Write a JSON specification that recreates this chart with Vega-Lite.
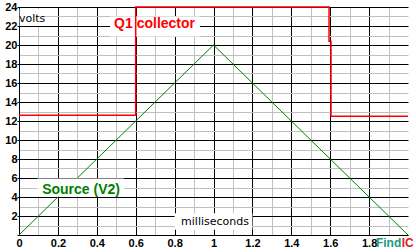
{
  "$schema": "https://vega.github.io/schema/vega-lite/v6.json",
  "width": 389,
  "height": 228,
  "autosize": {"type": "none"},
  "padding": {"left": 19, "top": 7, "right": 8, "bottom": 17},
  "config": {"view": {"stroke": null}, "background": "white"},
  "encoding": {
    "x": {"field": "t", "type": "quantitative",
      "scale": {"domain": [0, 2], "nice": false, "zero": false},
      "axis": {
        "title": null,
        "values": [0,0.1,0.2,0.3,0.4,0.5,0.6,0.7,0.8,0.9,1,1.1,1.2,1.3,1.4,1.5,1.6,1.7,1.8,1.9],
        "format": "~g",
        "labelExpr": "round(datum.value*10)%2==0 ? datum.label : ''",
        "labelOverlap": false,
        "labelFlush": false,
        "labelFont": "Liberation Sans",
        "labelFontWeight": "bold",
        "labelFontSize": 11,
        "labelColor": "black",
        "labelPadding": 2,
        "ticks": false,
        "domain": true,
        "domainColor": "black",
        "grid": true,
        "gridOpacity": 1,
        "gridWidth": 1,
        "gridColor": {"condition": {"test": "round(datum.value*10)%2==0", "value": "black"}, "value": "#c0c0c0"}
      }},
    "y": {"field": "v", "type": "quantitative",
      "scale": {"domain": [0, 24], "nice": false},
      "axis": {
        "title": null,
        "values": [0,1,2,3,4,5,6,7,8,9,10,11,12,13,14,15,16,17,18,19,20,21,22,23,24],
        "labelExpr": "datum.value>0 && datum.value%2==0 ? datum.label : ''",
        "labelOverlap": false,
        "labelFlush": false,
        "labelFont": "Liberation Sans",
        "labelFontWeight": "bold",
        "labelFontSize": 11,
        "labelColor": "black",
        "labelPadding": 0,
        "ticks": true,
        "tickSize": 2,
        "tickColor": {"condition": {"test": "datum.value%2==0", "value": "black"}, "value": "transparent"},
        "domain": true,
        "domainColor": "black",
        "grid": true,
        "gridOpacity": 1,
        "gridWidth": 1,
        "gridColor": {"condition": {"test": "datum.value%2==0", "value": "black"}, "value": "#c0c0c0"}
      }}
  },
  "layer": [
    {
      "data": {"values": [
        {"t": 0, "v": 0, "o": 0},
        {"t": 1, "v": 20, "o": 1},
        {"t": 2, "v": 0, "o": 2}
      ]},
      "mark": {"type": "line", "color": "#008000", "strokeWidth": 1},
      "encoding": {"order": {"field": "o"}}
    },
    {
      "data": {"values": [
        {"t": 0.003, "t2": 0.13, "v": 22.0, "v2": 23.8},
        {"t": 0.468, "t2": 0.93, "v": 20.9, "v2": 23.0},
        {"t": 0.095, "t2": 0.54, "v": 4.05, "v2": 5.95},
        {"t": 0.80, "t2": 1.2, "v": 0.55, "v2": 2.3}
      ]},
      "mark": {"type": "rect", "color": "white"},
      "encoding": {
        "x2": {"field": "t2"},
        "y2": {"field": "v2"}
      }
    },
    {
      "data": {"values": [
        {"t": 0, "v": 12.6, "o": 0},
        {"t": 0.6, "v": 12.6, "o": 1},
        {"t": 0.6, "v": 24, "o": 2},
        {"t": 1.594, "v": 24, "o": 3},
        {"t": 1.594, "v": 20.4, "o": 4},
        {"t": 1.604, "v": 20.4, "o": 5},
        {"t": 1.604, "v": 12.5, "o": 6},
        {"t": 2, "v": 12.5, "o": 7}
      ]},
      "mark": {"type": "line", "color": "#ff0000", "strokeWidth": 1.5},
      "encoding": {"order": {"field": "o"}}
    },
    {
      "data": {"values": [
        {"t": 0.697, "v": 22.2, "label": "Q1  collector", "kind": "Q1"},
        {"t": 0.319, "v": 4.71, "label": "Source  (V2)", "kind": "source"}
      ]},
      "mark": {"type": "text", "font": "Liberation Sans", "fontWeight": "bold", "fontSize": 14, "align": "center", "baseline": "middle"},
      "encoding": {
        "text": {"field": "label"},
        "color": {"field": "kind", "type": "nominal", "scale": {"domain": ["Q1", "source"], "range": ["#ff0000", "#008000"]}, "legend": null}
      }
    },
    {
      "data": {"values": [
        {"t": 1.008, "v": 1.36, "label": "milliseconds"}
      ]},
      "mark": {"type": "text", "font": "DejaVu Sans", "fontSize": 11, "align": "center", "baseline": "middle", "color": "black"},
      "encoding": {"text": {"field": "label"}}
    },
    {
      "data": {"values": [
        {"t": 0.0, "v": 22.7, "label": "volts"}
      ]},
      "mark": {"type": "text", "font": "DejaVu Sans", "fontSize": 11, "align": "left", "baseline": "middle", "color": "black"},
      "encoding": {"text": {"field": "label"}}
    },
    {
      "data": {"values": [
        {"t": 1.835, "v": -0.84, "label": "Find", "kind": "find"},
        {"t": 1.968, "v": -0.84, "label": "IC", "kind": "ic"}
      ]},
      "mark": {"type": "text", "font": "Liberation Sans", "fontWeight": "bold", "fontSize": 12, "align": "left", "baseline": "middle"},
      "encoding": {
        "text": {"field": "label"},
        "color": {"field": "kind", "type": "nominal", "scale": {"domain": ["find", "ic"], "range": ["#1a9a80", "#e02020"]}, "legend": null}
      }
    }
  ],
  "resolve": {"scale": {"color": "independent"}}
}
